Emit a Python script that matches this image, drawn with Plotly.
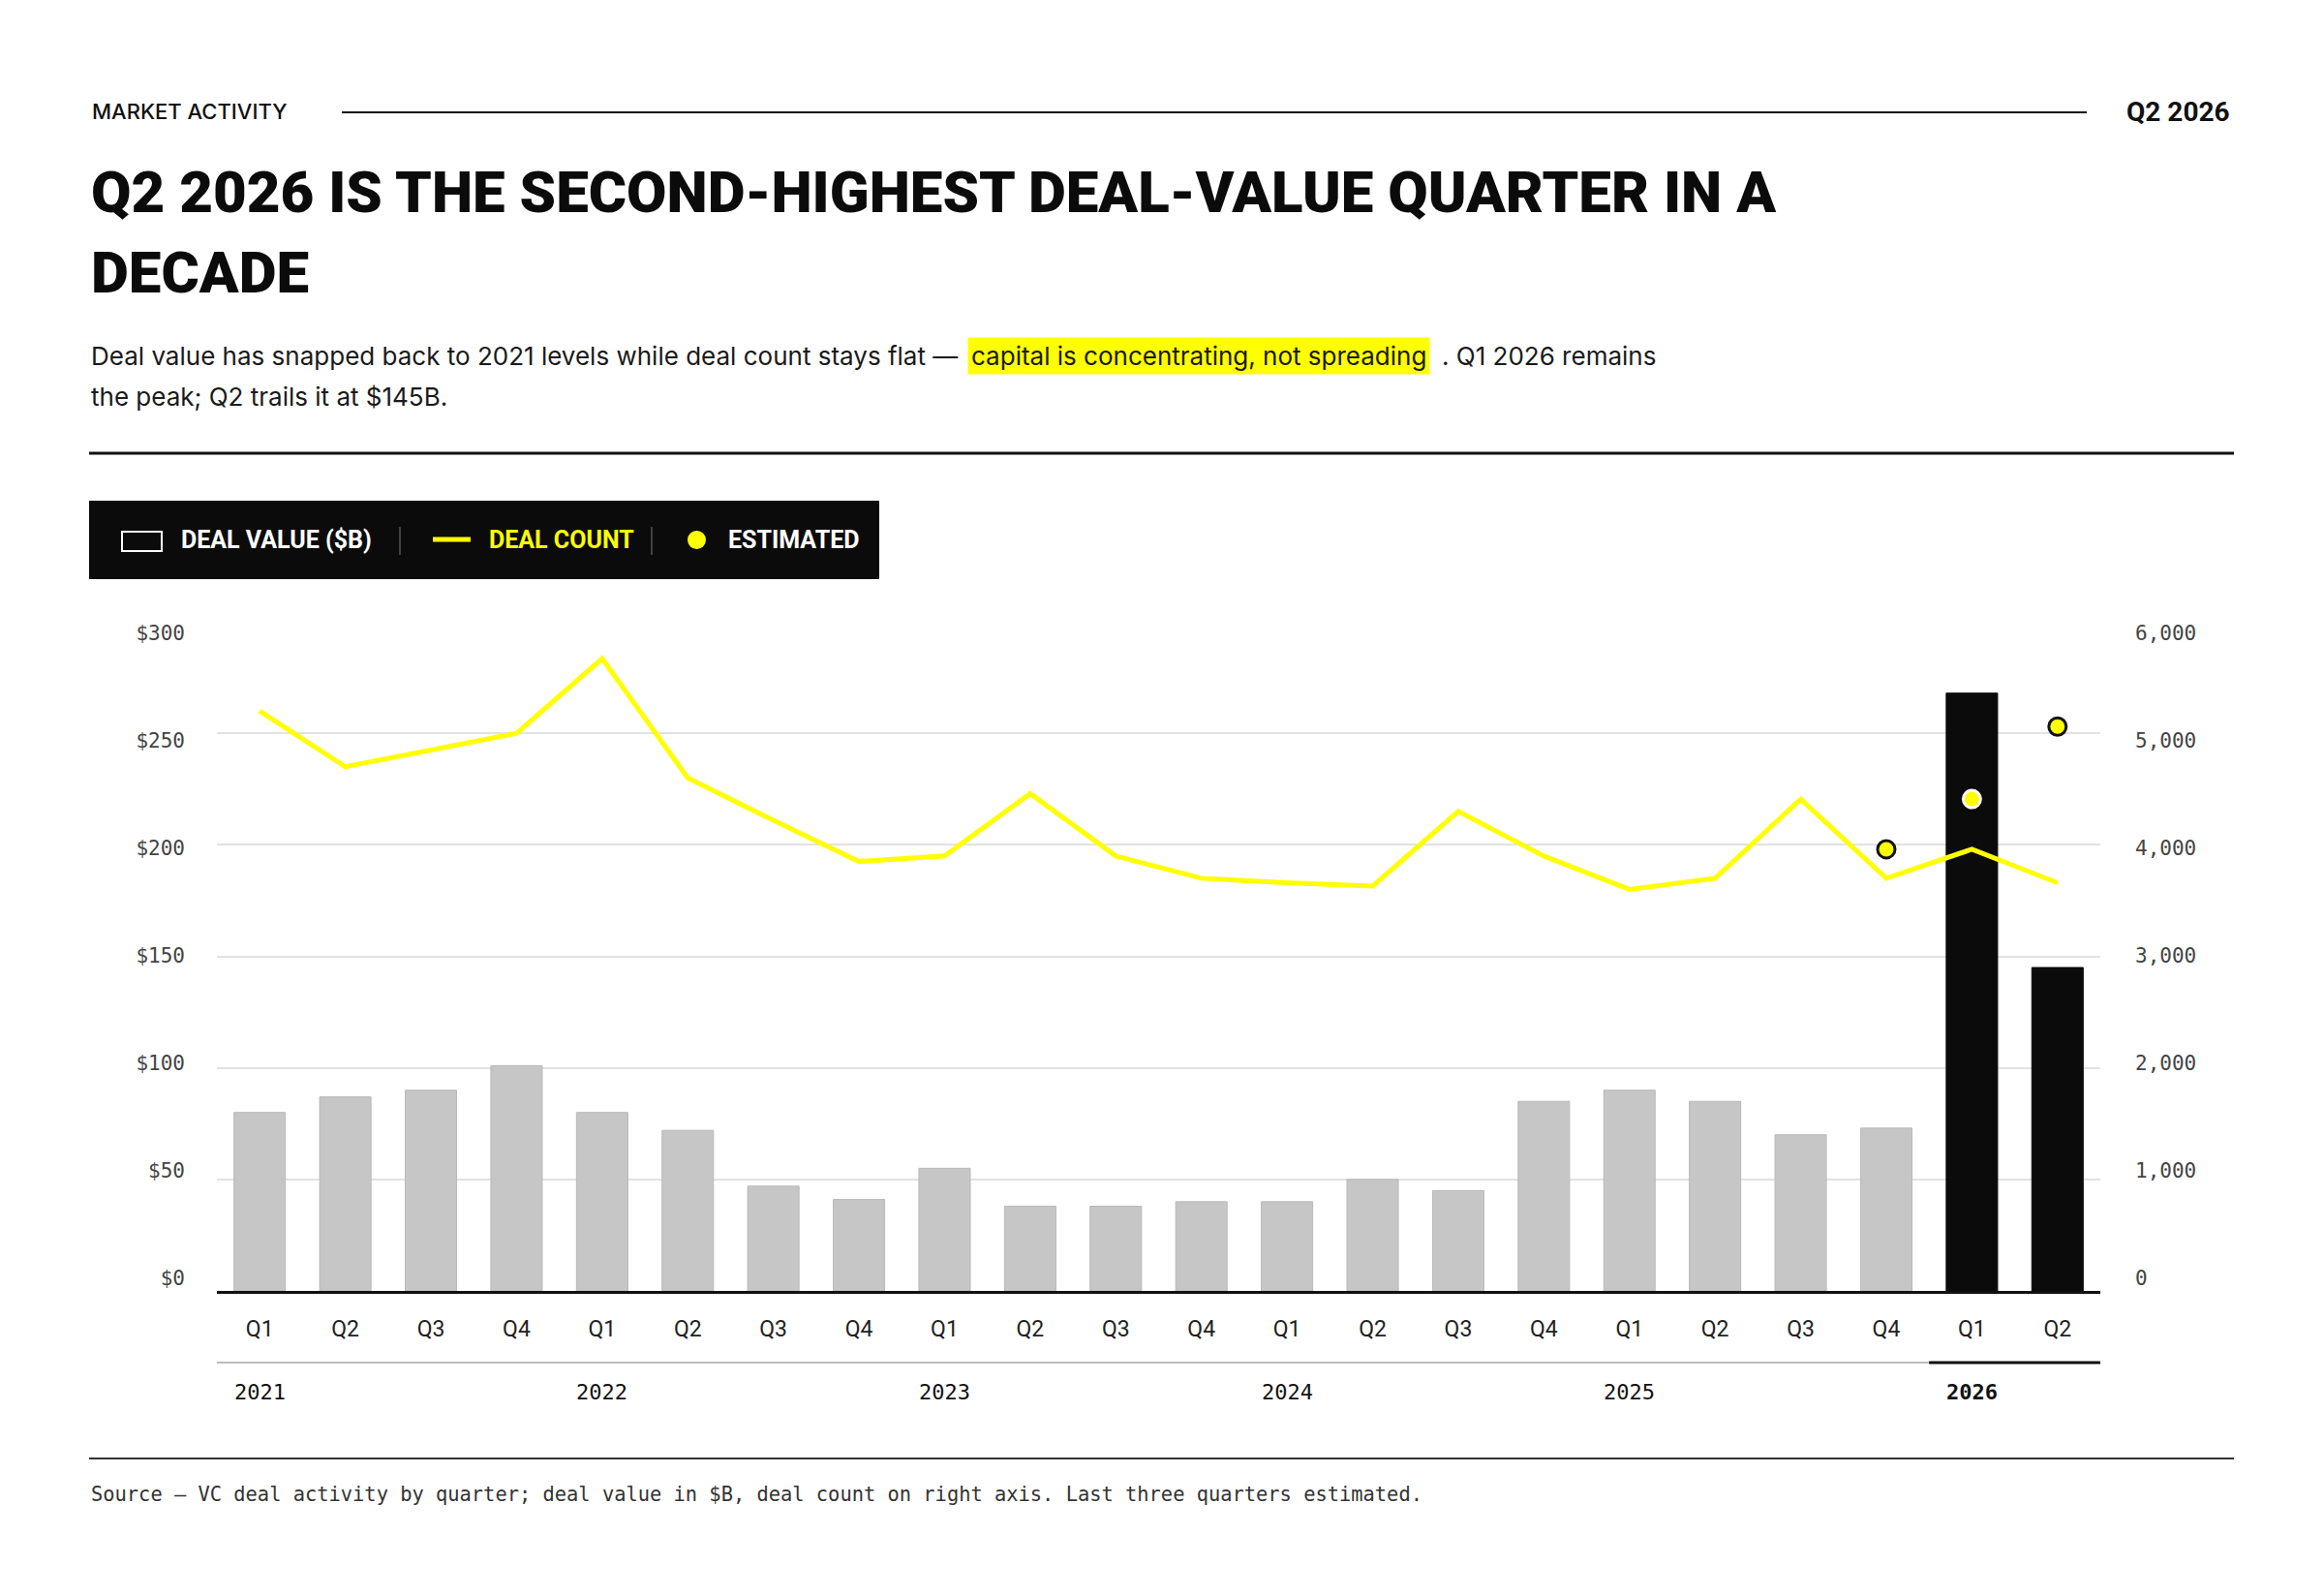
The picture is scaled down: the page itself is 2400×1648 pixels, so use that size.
import plotly.graph_objects as go

# quarterly data, Q1 2021 .. Q2 2026
quarters = ["Q1", "Q2", "Q3", "Q4"] * 5 + ["Q1", "Q2"]
bar_years = ["2021"] * 4 + ["2022"] * 4 + ["2023"] * 4 + ["2024"] * 4 + ["2025"] * 4 + ["2026"] * 2
years = ["2021", "2022", "2023", "2024", "2025", "2026"]
deal_value = [80, 87, 90, 101, 80, 72, 47, 41, 55, 38, 38, 40,
              40, 50, 45, 85, 90, 85, 70, 73, 268, 145]
deal_count = [5200, 4700, 4850, 5000, 5670, 4600, 4220, 3850, 3900, 4460, 3900, 3700,
              3660, 3630, 4300, 3900, 3600, 3700, 4410, 3700, 3960, 3660]
est_quarters = [19, 20, 21]
est_values = [3960, 4410, 5060]

left_ticks = [0, 50, 100, 150, 200, 250, 300]
left_labels = ["$0", "$50", "$100", "$150", "$200", "$250", "$300"]
right_ticks = [0, 1000, 2000, 3000, 4000, 5000, 6000]
right_labels = ["0", "1,000", "2,000", "3,000", "4,000", "5,000", "6,000"]

W, H = 2400, 1648
L, R, T, B = 224, 231, 642, 315
PW, PH = W - L - R, H - T - B

# no condensed display face available, Roboto is the closest narrow-ish sans
TITLE_FONT = "Roboto, sans-serif"
NARROW = "Roboto, sans-serif"
MONO = "DejaVu Sans Mono, Liberation Mono, monospace"
SANS = "Inter, Roboto, Noto Sans, sans-serif"
YELLOW = "#FFFF00"


def px(x):
    return (x - L) / PW


def py(y):
    return (H - B - y) / PH


x_idx = list(range(len(quarters)))
bar_colors = ["#0b0b0b" if yr == "2026" else "#c6c6c6" for yr in bar_years]
bar_lines = ["#0b0b0b" if yr == "2026" else "#b9b9b9" for yr in bar_years]

fig = go.Figure()

fig.add_trace(go.Bar(
    x=x_idx, y=deal_value, marker=dict(color=bar_colors, line=dict(color=bar_lines, width=1)),
    name="Deal value ($B)", showlegend=False,
))
fig.add_trace(go.Scatter(
    x=x_idx, y=deal_count, yaxis="y2", mode="lines",
    line=dict(color=YELLOW, width=5), name="Deal count", showlegend=False,
))
# white ring where the dot sits on a black bar
dot_outline = ["#ffffff" if bar_years[i] == "2026" and deal_value[i] > 200 else "#111111" for i in est_quarters]
fig.add_trace(go.Scatter(
    x=est_quarters, y=est_values, yaxis="y2", mode="markers",
    marker=dict(color=YELLOW, size=18, line=dict(color=dot_outline, width=3)),
    name="Estimated", showlegend=False,
))
# empty traces so the label-only axes get drawn
fig.add_trace(go.Scatter(x=[None], y=[None], yaxis="y3", showlegend=False, hoverinfo="skip"))
fig.add_trace(go.Scatter(x=[None], y=[None], yaxis="y4", showlegend=False, hoverinfo="skip"))

# tick labels sit a little inside the grid, like the original
k = (PH - 25) / 300
lo = -13 / k
hi = 300 + 12 / k

fig.update_layout(
    width=W, height=H,
    margin=dict(l=L, r=R, t=T, b=B, autoexpand=False),
    plot_bgcolor="white", paper_bgcolor="white",
    bargap=0.4,
    showlegend=False,
    xaxis=dict(
        range=[-0.5, len(quarters) - 0.5], tickvals=x_idx, ticktext=quarters,
        showgrid=False, zeroline=False, showline=True, linecolor="#111111", linewidth=3,
        ticks="", tickfont=dict(family=NARROW, size=23, color="#222222"),
        ticklabelstandoff=16, fixedrange=True,
    ),
    yaxis=dict(
        range=[0, 300], tickvals=left_ticks, showticklabels=False,
        showgrid=True, gridcolor="#e2e2e2", gridwidth=1.5, zeroline=False, fixedrange=True,
    ),
    yaxis2=dict(
        range=[0, 6000], overlaying="y", side="right", showgrid=False,
        showticklabels=False, zeroline=False, fixedrange=True,
    ),
    yaxis3=dict(
        range=[lo, hi], overlaying="y", side="left", showgrid=False, zeroline=False,
        tickvals=left_ticks, ticktext=left_labels, ticks="",
        tickfont=dict(family=MONO, size=21, color="#444444"), ticklabelstandoff=32,
        fixedrange=True,
    ),
    yaxis4=dict(
        range=[lo * 20, hi * 20], overlaying="y", side="right", showgrid=False, zeroline=False,
        tickvals=right_ticks, ticktext=right_labels, ticks="",
        tickfont=dict(family=MONO, size=21, color="#444444"), ticklabelstandoff=35,
        fixedrange=True,
    ),
)

shapes = []
annotations = []

# header
annotations.append(dict(text="MARKET ACTIVITY", x=px(93), y=py(115), xanchor="left", yanchor="middle",
                        font=dict(family=SANS, size=22, color="#111111", weight=500)))
shapes.append(dict(type="line", xref="paper", yref="paper", x0=px(353), x1=px(2155), y0=py(116), y1=py(116),
                   line=dict(color="#111111", width=2)))
annotations.append(dict(text="Q2 2026", x=px(2305), y=py(115), xanchor="right", yanchor="middle",
                        font=dict(family=NARROW, size=28, color="#111111", weight="bold")))

# title
title_font = dict(family=TITLE_FONT, size=60, color="#0b0b0b", weight=900)
annotations.append(dict(text="Q2 2026 IS THE SECOND-HIGHEST DEAL-VALUE QUARTER IN A", x=px(92), y=py(199),
                        xanchor="left", yanchor="middle", font=title_font))
annotations.append(dict(text="DECADE", x=px(92), y=py(281), xanchor="left", yanchor="middle", font=title_font))

# subtitle with highlighted phrase
sub_font = dict(family=SANS, size=26, color="#1a1a1a")
annotations.append(dict(text="Deal value has snapped back to 2021 levels while deal count stays flat —",
                        x=px(92), y=py(367), xanchor="left", yanchor="middle", font=sub_font))
annotations.append(dict(text="capital is concentrating, not spreading", x=px(999), y=py(367),
                        xanchor="left", yanchor="middle", font=sub_font, bgcolor=YELLOW, borderpad=3))
annotations.append(dict(text=". Q1 2026 remains", x=px(1487), y=py(367), xanchor="left", yanchor="middle",
                        font=sub_font))
annotations.append(dict(text="the peak; Q2 trails it at $145B.", x=px(92), y=py(410), xanchor="left",
                        yanchor="middle", font=sub_font))
shapes.append(dict(type="line", xref="paper", yref="paper", x0=px(92), x1=px(2307), y0=py(468), y1=py(468),
                   line=dict(color="#111111", width=3)))

# custom legend strip
shapes.append(dict(type="rect", xref="paper", yref="paper", x0=px(92), x1=px(908), y0=py(517), y1=py(598),
                   fillcolor="#0b0b0b", line=dict(width=0), layer="below"))
shapes.append(dict(type="rect", xref="paper", yref="paper", x0=px(126), x1=px(167), y0=py(549), y1=py(569),
                   fillcolor="#0b0b0b", line=dict(color="#ffffff", width=2)))
leg_font = dict(family=NARROW, size=25, weight="bold")
annotations.append(dict(text="DEAL VALUE ($B)", x=px(185), y=py(557), xanchor="left", yanchor="middle",
                        font=dict(color="#ffffff", **leg_font)))
shapes.append(dict(type="line", xref="paper", yref="paper", x0=px(413), x1=px(413), y0=py(544), y1=py(573),
                   line=dict(color="#555555", width=1.5)))
shapes.append(dict(type="line", xref="paper", yref="paper", x0=px(447), x1=px(486), y0=py(557), y1=py(557),
                   line=dict(color=YELLOW, width=5)))
annotations.append(dict(text="DEAL COUNT", x=px(503), y=py(557), xanchor="left", yanchor="middle",
                        font=dict(color=YELLOW, **leg_font)))
shapes.append(dict(type="line", xref="paper", yref="paper", x0=px(673), x1=px(673), y0=py(544), y1=py(573),
                   line=dict(color="#555555", width=1.5)))
shapes.append(dict(type="circle", xref="paper", yref="paper", x0=px(710), x1=px(729), y0=py(548), y1=py(567),
                   fillcolor=YELLOW, line=dict(width=0)))
annotations.append(dict(text="ESTIMATED", x=px(750), y=py(557), xanchor="left", yanchor="middle",
                        font=dict(color="#ffffff", **leg_font)))

# year row under the quarter labels
shapes.append(dict(type="line", xref="x", yref="paper", x0=-0.5, x1=len(quarters) - 0.5, y0=py(1407), y1=py(1407),
                   line=dict(color="#bdbdbd", width=2)))
first_2026 = bar_years.index("2026")
shapes.append(dict(type="line", xref="x", yref="paper", x0=first_2026 - 0.5, x1=len(quarters) - 0.5,
                   y0=py(1407), y1=py(1407), line=dict(color="#111111", width=3)))
for yr in years:
    annotations.append(dict(text=yr, x=bar_years.index(yr), xref="x", y=py(1437), yanchor="middle",
                            font=dict(family=MONO, size=22, color="#111111",
                                      weight="bold" if yr == "2026" else "normal")))

# footer
shapes.append(dict(type="line", xref="paper", yref="paper", x0=px(92), x1=px(2307), y0=py(1506), y1=py(1506),
                   line=dict(color="#333333", width=2)))
annotations.append(dict(text="Source — VC deal activity by quarter; deal value in $B, deal count on right axis. "
                             "Last three quarters estimated.",
                        x=px(92), y=py(1543), xanchor="left", yanchor="middle",
                        font=dict(family=MONO, size=20.4, color="#333333")))

for a in annotations:
    a.setdefault("xref", "paper")
    a.setdefault("yref", "paper")
    a["showarrow"] = False

fig.update_layout(shapes=shapes, annotations=annotations)

# drop the default page margin so the figure sits at 0,0, and hide the modebar
fig.write_html("out.html", config={"displayModeBar": False},
               post_script="document.body.style.margin='0';")
